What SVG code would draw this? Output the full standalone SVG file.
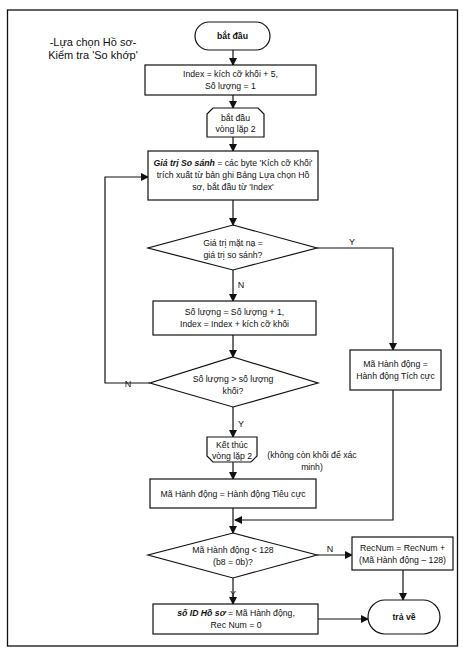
<svg xmlns="http://www.w3.org/2000/svg" width="466" height="660" viewBox="0 0 466 660">
<defs>
<marker id="ah" markerWidth="8" markerHeight="8" refX="7" refY="4" orient="auto" markerUnits="userSpaceOnUse">
<path d="M0,0 L8,4 L0,8 z" fill="#111"/>
</marker>
<style>
.s{fill:#fff;stroke:#111;stroke-width:1.2}
.c{fill:none;stroke:#111;stroke-width:1.2}
.a{fill:none;stroke:#111;stroke-width:1.2;marker-end:url(#ah)}
text{font-family:"Liberation Sans",Arial,sans-serif;font-size:8.7px;fill:#111;text-anchor:middle}
.b{font-weight:bold}
.bi{font-weight:bold;font-style:italic}
.t{font-size:11px}
.l{font-size:9px}
</style>
</defs>
<rect width="466" height="660" fill="#fff"/>
<rect x="7.5" y="10" width="450" height="636" fill="none" stroke="#111" stroke-width="1.3"/>
<g id="title">
<text class="t" x="93" y="46">-Lựa chọn Hồ sơ-</text>
<text class="t" x="93" y="59">Kiểm tra 'So khớp'</text>
</g>
<g id="connectors">
<path class="a" d="M233,50 V65"/>
<path class="a" d="M233,95 V108"/>
<path class="a" d="M233,137 V151"/>
<path class="a" d="M233,200 V225"/>
<path class="a" d="M233,270 V301"/>
<path class="a" d="M317,248 H393 V350"/>
<path class="a" d="M233,335 V357"/>
<path class="a" d="M150,383 H105 V177 H148"/>
<path class="a" d="M233,407 V437"/>
<path class="a" d="M233,462 V479"/>
<path class="a" d="M233,508 V533"/>
<path class="a" d="M393,390 V520 H235"/>
<path class="a" d="M317,555 H352"/>
<path class="a" d="M403,570 V600"/>
<path class="a" d="M233,578 V604"/>
<path class="a" d="M318,619 H368"/>
<text class="l" x="352" y="245">Y</text>
<text class="l" x="241" y="288">N</text>
<text class="l" x="128" y="387">N</text>
<text class="l" x="241" y="427">Y</text>
<text class="l" x="330" y="552">N</text>
<text class="l" x="233" y="597">Y</text>
</g>
<g id="start">
<rect class="s" x="195" y="22" width="75" height="28" rx="14"/>
<text class="b" x="232.5" y="39">bắt đầu</text>
</g>
<g id="init">
<rect class="s" x="145" y="65" width="171" height="30"/>
<text x="230.5" y="77">Index = kích cỡ khối + 5,</text>
<text x="230.5" y="89">Số lượng = 1</text>
</g>
<g id="loopstart">
<path class="s" d="M207,114 L213,108 H258 L264,114 V137 H207 Z"/>
<text x="235.5" y="121">bắt đầu</text>
<text x="235.5" y="132">vòng lặp 2</text>
</g>
<g id="compare">
<rect class="s" x="148" y="151" width="170" height="49"/>
<text x="233" y="166"><tspan class="bi">Giá trị So sánh</tspan> = các byte 'Kích cỡ Khối'</text>
<text x="233" y="178">trích xuất từ bản ghi Bảng Lựa chọn Hồ</text>
<text x="233" y="190">sơ, bắt đầu từ 'Index'</text>
</g>
<g id="maskcheck">
<path class="s" d="M233,225 L317,248 L233,270 L148,248 Z"/>
<text x="233" y="246">Giá trị mặt nạ =</text>
<text x="233" y="258">giá trị so sánh?</text>
</g>
<g id="increment">
<rect class="s" x="153" y="301" width="163" height="34"/>
<text x="234.5" y="315">Số lượng = Số lượng + 1,</text>
<text x="234.5" y="327">Index = Index + kích cỡ khối</text>
</g>
<g id="countcheck">
<path class="s" d="M233,357 L318,383 L233,407 L150,383 Z"/>
<text x="233" y="382">Số lượng &gt; số lượng</text>
<text x="233" y="394">khối?</text>
</g>
<g id="positive">
<rect class="s" x="350" y="350" width="91" height="40"/>
<text x="395.5" y="367">Mã Hành động =</text>
<text x="395.5" y="379">Hành động Tích cực</text>
</g>
<g id="loopend">
<path class="s" d="M207,437 H257 V456 L251,462 H213 L207,456 Z"/>
<text x="232" y="448">Kết thúc</text>
<text x="232" y="459">vòng lặp 2</text>
<text x="312" y="458">(không còn khối để xác</text>
<text x="312" y="470">minh)</text>
</g>
<g id="negative">
<rect class="s" x="150" y="479" width="166" height="29"/>
<text x="233" y="497">Mã Hành động = Hành động Tiêu cực</text>
</g>
<g id="actioncheck">
<path class="s" d="M233,533 L317,555 L233,578 L148,555 Z"/>
<text x="233" y="553">Mã Hành động &lt; 128</text>
<text x="233" y="565">(b8 = 0b)?</text>
</g>
<g id="recnum">
<rect class="s" x="352" y="537" width="101" height="33"/>
<text x="402.5" y="551">RecNum = RecNum +</text>
<text x="402.5" y="563">(Mã Hành động – 128)</text>
</g>
<g id="profileid">
<rect class="s" x="153" y="604" width="165" height="30"/>
<text x="236" y="616"><tspan class="bi">số ID Hồ sơ</tspan> = Mã Hành động,</text>
<text x="236" y="628">Rec Num = 0</text>
</g>
<g id="return">
<rect class="s" x="368" y="600" width="72" height="34" rx="17"/>
<text class="b" x="404" y="620">trả về</text>
</g>
</svg>
